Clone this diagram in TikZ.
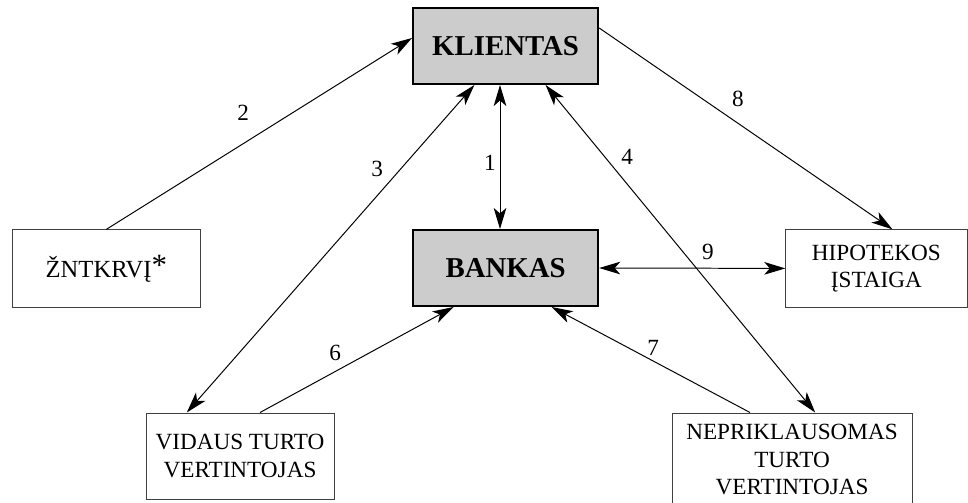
\documentclass[tikz,border=0pt]{standalone}
\usepackage{fontspec}
\setmainfont{Liberation Serif}
\usetikzlibrary{arrows.meta}

\begin{document}
\begin{tikzpicture}[>={Stealth[length=15pt,width=9pt,inset=4pt]},
    mainbox/.style={draw, line width=1.4pt, fill=gray!40, minimum width=4.63cm, minimum height=1.9cm,
      font=\fontsize{20.5}{24}\selectfont\bfseries},
    sidebox/.style={draw=black!75, line width=0.7pt, align=center, inner sep=0pt,
      font=\fontsize{16.5}{19.5}\selectfont},
    lbl/.style={font=\fontsize{16.5}{19.5}\selectfont, inner sep=1pt},
    conn/.style={line width=0.7pt}]
    \useasboundingbox (0,0) rectangle (24.2,12.55);

    % --- pagrindiniai blokai ---
    \node[mainbox] (klientas) at (12.64,11.4) {KLIENTAS};
    \node[mainbox] (bankas) at (12.64,5.85) {BANKAS};

    % --- kiti dalyviai ---
    \node[sidebox, minimum width=4.68cm, minimum height=1.93cm, font=\fontsize{17.5}{21}\selectfont] (zntkrvi)
      at (2.66,5.84) {ŽNTKRVĮ\raisebox{1.5pt}{\fontsize{22}{22}\selectfont *}};
    \node[sidebox, minimum width=4.53cm, minimum height=1.93cm] (hipoteka) at (21.91,5.84) {HIPOTEKOS\\ĮSTAIGA};
    \node[sidebox, minimum width=4.7cm, minimum height=2.15cm, font=\fontsize{16.5}{20}\selectfont] (vidaus)
      at (6.0,1.15) {VIDAUS TURTO\\VERTINTOJAS};
    \node[sidebox, minimum width=6.0cm, minimum height=2.33cm] (nepriklausomas) at (19.8,1.06) {NEPRIKLAUSOMAS\\TURTO\\VERTINTOJAS};

    % --- rysiai ---
    \draw[conn, <->] ([xshift=-0.14cm]klientas.south) -- ([xshift=-0.14cm]bankas.north);
    \draw[conn, ->] (zntkrvi.north) -- ([yshift=0.2cm]klientas.west);
    \draw[conn, <->] ([xshift=-0.78cm]klientas.south) -- ([xshift=-1.33cm]vidaus.north);
    \draw[conn, <->] ([xshift=1cm]klientas.south) -- ([xshift=0.58cm]nepriklausomas.north);
    \draw[conn, ->] ([xshift=0.5cm]vidaus.north) -- ([xshift=-1.3cm]bankas.south);
    \draw[conn, ->] ([xshift=-1.05cm]nepriklausomas.north) -- ([xshift=1.15cm]bankas.south);
    \draw[conn, ->] ([yshift=0.45cm]klientas.east) -- ([xshift=0.4cm]hipoteka.north);
    \draw[conn, <->] (bankas.east) -- (hipoteka.west);

    % --- numeriai ---
    \node[lbl] (n1) at (12.25,8.48) {1};
    \node[lbl] (n2) at (6.08,9.73) {2};
    \node[lbl] (n3) at (9.43,8.33) {3};
    \node[lbl] (n4) at (15.68,8.63) {4};
    \node[lbl] (n6) at (8.38,3.73) {6};
    \node[lbl] (n7) at (16.33,3.85) {7};
    \node[lbl] (n8) at (18.45,10.08) {8};
    \node[lbl] (n9) at (17.7,6.25) {9};
\end{tikzpicture}
\end{document}
